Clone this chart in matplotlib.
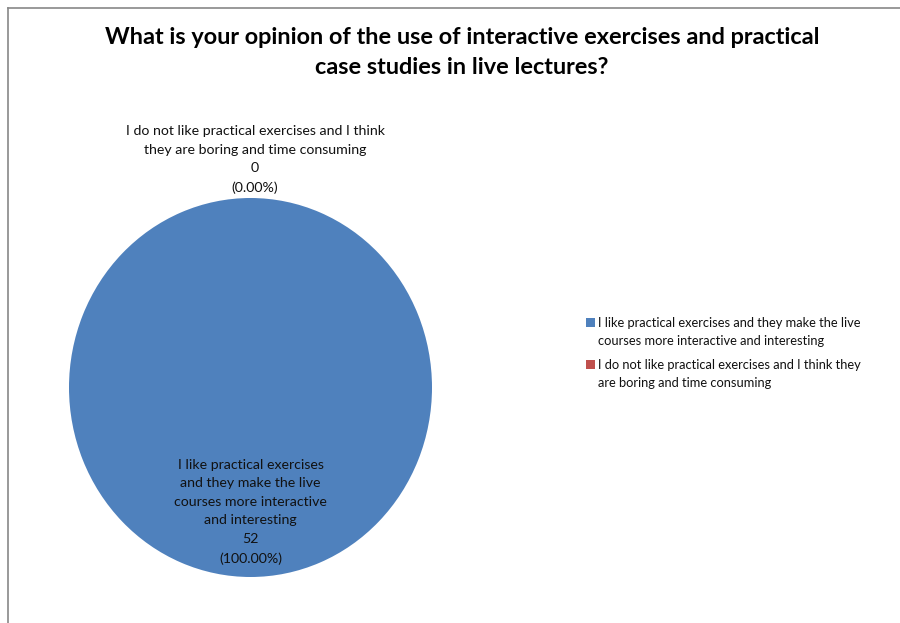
import matplotlib
matplotlib.use("Agg")
import matplotlib.pyplot as plt
from matplotlib.patches import Rectangle
from matplotlib.lines import Line2D

plt.rcParams['font.family'] = ['Lato', 'DejaVu Sans']

title = "What is your opinion of the use of interactive exercises and practical\ncase studies in live lectures?"
categories = [
    "I like practical exercises and they make the live courses more interactive and interesting",
    "I do not like practical exercises and I think they are boring and time consuming",
]
counts = [52, 0]
colors = ["#4F81BD", "#C0504D"]

pie_labels = [
    "I like practical exercises\nand they make the live\ncourses more interactive\nand interesting",
    "I do not like practical exercises and I think\nthey are boring and time consuming",
]
legend_labels = [
    "I like practical exercises and they make the live\ncourses more interactive and interesting",
    "I do not like practical exercises and I think they\nare boring and time consuming",
]

W, H = 900, 623
fig = plt.figure(figsize=(W / 100, H / 100), dpi=100)

# chart frame (top and left edges visible)
fig.add_artist(Line2D([8 / W, 8 / W], [0, 1 - 8 / H], color="#888888", lw=1.2))
fig.add_artist(Line2D([8 / W, 1], [1 - 8 / H, 1 - 8 / H], color="#888888", lw=1.2))

fig.text(462 / W, 1 - 52.5 / H, title, ha="center", va="center",
         fontsize=16.9, fontweight="bold", linespacing=1.5)

cx, cy, rx, ry = 250.5, 387.5, 181.5, 189.5
ax = fig.add_axes([(cx - rx) / W, (H - cy - ry) / H, 2 * rx / W, 2 * ry / H])
total = sum(counts)
ax.pie(counts, colors=colors, startangle=90, counterclock=False, radius=1,
       wedgeprops=dict(linewidth=0))
ax.set_xlim(-1, 1)
ax.set_ylim(-1, 1)
ax.set_aspect("auto")
ax.axis("off")

label_pos = [(0.0, -0.655), (0.025, 1.203)]
for lab, n, (x, y) in zip(pie_labels, counts, label_pos):
    ax.text(x, y, f"{lab}\n{n}\n({100 * n / total:.2f}%)", ha="center", va="center",
            fontsize=10.2, linespacing=1.66, color="#111111", clip_on=False)

# legend: colour squares aligned with the first line of each entry
leg_x, leg_y0, leg_step = 590, 322, 42
for i, (lab, c) in enumerate(zip(legend_labels, colors)):
    yc = leg_y0 + i * leg_step
    fig.add_artist(Rectangle(((leg_x - 4.5) / W, 1 - (yc + 4.5) / H), 9 / W, 9 / H,
                             facecolor=c, edgecolor="none", transform=fig.transFigure))
    fig.text((leg_x + 8) / W, 1 - (yc - 5) / H, lab, ha="left", va="top",
             fontsize=9.3, linespacing=1.585, color="#111111")

fig.savefig("out.png", dpi=100)
